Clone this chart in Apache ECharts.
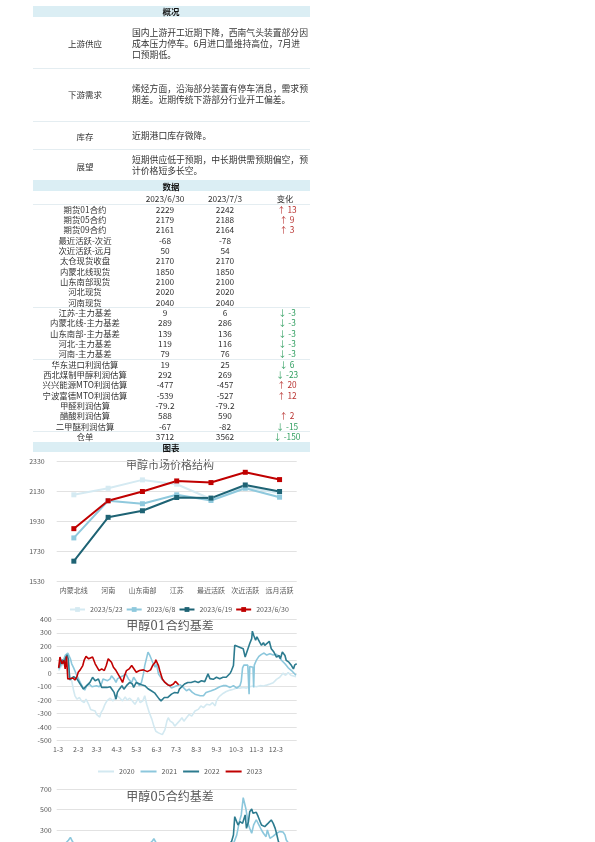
<!DOCTYPE html>
<html><head><meta charset="utf-8">
<script src="https://cdn.jsdelivr.net/npm/echarts@6/dist/echarts.min.js"></script>
<style>
html,body{margin:0;padding:0;background:#fff;}
body{width:595px;height:842px;overflow:hidden;position:relative;font-family:'Noto Sans CJK SC',sans-serif;color:#333;}
#chart{position:absolute;left:0;top:0;width:595px;height:960px;}
.t{position:absolute;white-space:nowrap;line-height:1;}
.c{transform:translate(-50%,-50%);}
.l{transform:translate(0,-50%);}
.bar{position:absolute;left:33px;width:277px;background:#dbeef4;}
.sep{position:absolute;left:33px;width:277px;height:1px;background:#e4edf1;}
</style></head><body>
<div id="chart"></div>
<div id="layer"></div>
<script>
// ---------- 概况 ----------
const overviewLabels = ['上游供应','下游需求','库存','展望'];
const overviewTexts = [
  ['国内上游开工近期下降，西南气头装置部分因','成本压力停车。6月进口量维持高位，7月进','口预期低。'],
  ['烯烃方面，沿海部分装置有停车消息，需求预','期差。近期传统下游部分行业开工偏差。'],
  ['近期港口库存微降。'],
  ['短期供应低于预期，中长期供需预期偏空，预','计价格短多长空。']
];
// ---------- 数据 ----------
const tableHeader = ['2023/6/30','2023/7/3','变化'];
const rowNames = ['期货01合约','期货05合约','期货09合约','最近活跃-次近','次近活跃-远月','太仓现货收盘','内蒙北线现货','山东南部现货','河北现货','河南现货','江苏-主力基差','内蒙北线-主力基差','山东南部-主力基差','河北-主力基差','河南-主力基差','华东进口利润估算','西北煤制甲醇利润估算','兴兴能源MTO利润估算','宁波富德MTO利润估算','甲醛利润估算','醋酸利润估算','二甲醚利润估算','仓单'];
const col0630 = ['2229','2179','2161','-68','50','2170','1850','2100','2020','2040','9','289','139','119','79','19','292','-477','-539','-79.2','588','-67','3712'];
const col0703 = ['2242','2188','2164','-78','54','2170','1850','2100','2020','2040','6','286','136','116','76','25','269','-457','-527','-79.2','590','-82','3562'];
const changeVal = ['13','9','3','','','','','','','','-3','-3','-3','-3','-3','6','-23','20','12','','2','-15','-150'];
const changeDir = ['u','u','u','','','','','','','','d','d','d','d','d','d','d','u','u','','u','d','d'];

// ---------- 图1 甲醇市场价格结构 ----------
const structCats = ['内蒙北线','河南','山东南部','江苏','最近活跃','次近活跃','远月活跃'];
const p0523 = [2108,2152,2208,2179,2080,2160,2118];
const p0608 = [1819,2068,2048,2108,2070,2152,2092];
const p0619 = [1663,1957,2001,2090,2086,2174,2130];
const p0630 = [1881,2068,2130,2201,2190,2259,2210];
const structTicks = [1530,2330,200];

// ---------- 图2 甲醇01合约基差 (day of year, value) ----------
const monthDays = [2,33,61,92,122,153,183,214,245,275,306,336];
const monthLabels = ['1-3','2-3','3-3','4-3','5-3','6-3','7-3','8-3','9-3','10-3','11-3','12-3'];
const b01_2020 = [[3,20],[6,45],[10,70],[15,95],[18,57],[20,-18],[23,-55],[26,-130],[28,-167],[31,-192],[35,-180],[38,-205],[42,-217],[45,-192],[49,-230],[52,-268],[55,-255],[59,-280],[61,-305],[64,-318],[66,-325],[68,-292],[71,-268],[74,-230],[77,-205],[82,-185],[86,-205],[89,-192],[93,-167],[97,-185],[101,-205],[105,-175],[108,-200],[112,-185],[116,-205],[120,-230],[123,-205],[125,-180],[128,-218],[132,-205],[135,-167],[138,-230],[142,-292],[146,-342],[149,-392],[152,-430],[156,-442],[159,-435],[162,-455],[166,-418],[169,-355],[171,-330],[174,-355],[178,-367],[181,-392],[184,-380],[188,-355],[192,-330],[195,-355],[199,-330],[203,-305],[207,-318],[212,-280],[217,-268],[221,-242],[225,-255],[230,-230],[235,-235],[239,-218],[243,-242],[245,-205],[248,-180],[251,-165],[255,-150],[260,-135],[266,-125],[271,-118],[276,-110],[281,-110],[286,-105],[291,-110],[296,-100],[301,-95],[306,-100],[312,-92],[317,-95],[322,-88],[327,-80],[332,-70],[337,-45],[342,-30],[345,-20],[347,0],[351,-15],[355,5],[359,-15],[363,-20],[367,-25]];
const b01_2021 = [[3,32],[8,70],[13,132],[17,150],[19,145],[21,107],[23,70],[26,40],[31,-18],[36,-68],[40,-105],[43,-125],[46,-92],[50,-80],[54,-100],[56,-105],[61,-92],[65,-100],[69,-75],[71,-42],[74,-30],[78,-55],[82,-42],[84,-18],[88,-42],[91,-68],[93,-42],[97,-30],[102,-18],[106,-5],[110,-42],[115,-68],[118,-30],[123,-68],[127,-92],[130,-68],[133,-5],[135,57],[138,70],[140,157],[142,162],[143,130],[146,95],[148,70],[151,45],[153,70],[156,-5],[161,-42],[166,-68],[169,-55],[173,-92],[176,-110],[179,-118],[184,-92],[189,-85],[194,-105],[199,-130],[203,-118],[208,-142],[212,-155],[214,-142],[220,-167],[225,-167],[229,-142],[232,-155],[237,-130],[243,-118],[245,-105],[250,-100],[255,-92],[260,-92],[266,-105],[271,-92],[276,-110],[281,-92],[283,-60],[285,40],[287,60],[290,55],[293,60],[295,-155],[296,50],[299,55],[301,45],[302,-105],[303,60],[306,95],[310,125],[314,140],[318,150],[322,135],[327,145],[332,135],[337,140],[341,120],[345,95],[350,70],[355,40],[360,20],[364,0],[367,-15]];
const b01_2022 = [[3,40],[6,80],[9,100],[11,70],[13,107],[16,137],[18,100],[20,-50],[26,-25],[31,-42],[36,-80],[41,-117],[43,-130],[46,-92],[51,-68],[55,-30],[59,-55],[64,-42],[66,-68],[69,-105],[71,-92],[77,-105],[82,-100],[84,-105],[88,-142],[91,-192],[93,-142],[96,-118],[100,-92],[103,-118],[107,-92],[112,-68],[116,-80],[118,-105],[122,-68],[125,-80],[130,-85],[135,-92],[140,-115],[145,-130],[150,-145],[153,-155],[157,-190],[160,-205],[165,-180],[170,-180],[176,-155],[181,-142],[186,-147],[188,-118],[191,-105],[196,-80],[201,-68],[206,-68],[212,-60],[217,-68],[222,-55],[227,-62],[230,-60],[232,-5],[235,-40],[240,-45],[245,-30],[250,-40],[255,-30],[260,-30],[266,0],[268,20],[271,57],[273,207],[276,195],[286,182],[287,170],[289,120],[291,132],[296,220],[299,257],[300,312],[302,282],[305,245],[307,270],[311,232],[314,207],[317,227],[319,207],[322,220],[326,237],[329,182],[333,157],[337,120],[341,132],[343,107],[346,157],[350,132],[352,95],[356,82],[360,57],[363,32],[365,62],[368,70]];
const b01_2023 = [[3,40],[5,120],[8,70],[9,62],[11,95],[13,32],[15,125],[17,-42],[20,-50],[25,-35],[28,-50],[31,-25],[33,8],[36,25],[40,57],[42,95],[45,125],[49,107],[51,100],[55,120],[59,70],[61,82],[65,20],[69,32],[73,20],[76,57],[79,107],[82,120],[84,82],[87,45],[91,20],[94,8],[97,-30],[101,-68],[104,-18],[107,20],[111,32],[115,57],[118,45],[122,8],[127,20],[133,25],[139,12],[144,25],[147,57],[151,82],[152,100],[156,57],[158,20],[162,-42],[166,-68],[170,-85],[174,-92],[179,-80],[182,-60],[184,-68],[187,-85]];

// ---------- 图3 甲醇05合约基差 ----------
const b05_2020 = [[3,0],[40,-150],[64,-250],[100,-180],[160,-420],[200,-300],[250,-130],[300,-100],[367,-20]];
const b05_2021 = [[3,120],[12,160],[18,200],[21,228],[24,190],[30,130],[45,60],[60,20],[90,40],[120,80],[140,150],[147,195],[149,215],[152,180],[160,100],[180,-20],[210,-80],[240,-40],[260,20],[270,150],[276,250],[280,380],[283,447],[286,615],[288,625],[290,510],[294,350],[296,316],[299,268],[302,350],[306,400],[310,350],[314,300],[317,268],[321,235],[323,300],[327,219],[332,240],[337,268],[342,284],[345,268],[347,280],[350,252],[352,203],[358,150],[367,120]];
const b05_2022 = [[3,80],[30,0],[60,-60],[100,-50],[150,-150],[180,-80],[220,20],[250,80],[262,150],[268,186],[271,251],[273,430],[276,414],[278,349],[281,381],[285,365],[289,447],[291,316],[294,381],[296,479],[299,505],[301,463],[304,453],[306,473],[309,430],[312,381],[314,349],[317,349],[319,333],[322,349],[324,365],[327,381],[329,398],[332,365],[335,316],[337,268],[340,186],[345,150],[355,100],[367,120]];
const b05_2023 = [[3,60],[20,-30],[45,80],[80,60],[100,-40],[130,10],[150,70],[170,-60],[187,-70]];

// ---------- HTML text layer ----------
const layer = document.getElementById('layer');
function add(cls, x, y, txt, style){
  const d = document.createElement('div');
  d.className = 't ' + cls; d.style.left = x + 'px'; d.style.top = y + 'px';
  d.textContent = txt; if (style) d.style.cssText += style; layer.appendChild(d); return d;
}
function bar(top, h, txt){
  const b = document.createElement('div'); b.className='bar';
  b.style.top = top + 'px'; b.style.height = h + 'px'; layer.appendChild(b);
  add('c', 171, top + h/2, txt, 'font-size:8.5px;font-weight:bold;color:#111;');
}
function sep(y){ const s=document.createElement('div'); s.className='sep'; s.style.top=y+'px'; layer.appendChild(s); }

bar(6, 10.5, '概况');
const ovLabelY = [43, 94, 136, 165.5];
const ovTextY = [33.3, 88.8, 135.5, 159.5];
overviewLabels.forEach((lab, i) => {
  add('c', 85, ovLabelY[i], lab, 'font-size:8.5px;color:#333;');
  overviewTexts[i].forEach((ln, j) => add('l', 132, ovTextY[i] + j*11, ln, 'font-size:8.8px;color:#333;'));
});
[68.3, 120.5, 148.5].forEach(sep);

bar(180, 11, '数据');
const rowY0 = 198.4, rowH = 10.33;
add('c', 165, rowY0, tableHeader[0], 'font-size:8.3px;');
add('c', 225, rowY0, tableHeader[1], 'font-size:8.3px;');
add('c', 285, rowY0, tableHeader[2], 'font-size:8.3px;');
rowNames.forEach((nm, i) => {
  const y = rowY0 + (i+1)*rowH;
  add('c', 85, y, nm, 'font-size:8.4px;');
  add('c', 165, y, col0630[i], 'font-size:8.3px;');
  add('c', 225, y, col0703[i], 'font-size:8.3px;');
  if (changeVal[i] !== '') {
    const up = changeDir[i] === 'u';
    add('c', 287, y, (up ? '↑ ' : '↓ ') + changeVal[i], 'font-size:8.3px;color:' + (up ? '#b8312f' : '#2f9e5f') + ';');
  }
});
[204, 306.8, 359, 431.3].forEach(sep);
bar(441.5, 10.5, '图表');

// ---------- ECharts ----------
const chart = echarts.init(document.getElementById('chart'), null, {renderer:'canvas'});
const FONT = "'Noto Sans CJK SC', sans-serif";
const TFONT = "'DejaVu Serif', 'Noto Sans CJK SC', serif";
const gridLine = {show:true, lineStyle:{color:'#e2e2e2', width:1}};
const lab = {fontSize:7, color:'#595959', fontFamily:FONT};
const plain = v => String(v);
const daysAxis = (gi) => ({
  type:'value', gridIndex:gi, min:0, max:368,
  axisLine:{show:false}, axisTick:{show:false}, splitLine:{show:false},
  axisLabel:Object.assign({}, lab, {margin:5, customValues:monthDays, showMinLabel:true, showMaxLabel:true,
    formatter:v => { const k = monthDays.indexOf(Math.round(v)); return k >= 0 ? monthLabels[k] : ''; }})
});
const lineS = (name, data, color, xi) => ({
  name, type:'line', xAxisIndex:xi, yAxisIndex:xi, data, symbol:'none', showSymbol:false,
  lineStyle:{color, width:1.6}, itemStyle:{color}, animation:false
});
const structS = (name, data, color) => ({
  name, type:'line', xAxisIndex:0, yAxisIndex:0, data, symbol:'rect', symbolSize:5,
  lineStyle:{color, width:2}, itemStyle:{color}, animation:false
});
const C = {a:'#d5eaf2', b:'#8fc9dd', c:'#1e6374', d:'#c00000'};
const Y = {y20:'#d3e9f1', y21:'#8cc7dc', y22:'#2c7b8f', y23:'#c00000'};

chart.setOption({
  animation:false,
  textStyle:{fontFamily:FONT},
  grid:[
    {left:56.7, width:240, top:461.7, height:119.3},
    {left:56.7, width:240, top:619.3, height:121.4},
    {left:56.7, width:240, top:789, height:123}
  ],
  xAxis:[
    {type:'category', gridIndex:0, data:structCats, boundaryGap:true,
     axisLine:{show:false}, axisTick:{show:false}, axisLabel:Object.assign({}, lab, {margin:6, interval:0})},
    daysAxis(1), daysAxis(2)
  ],
  yAxis:[
    {type:'value', gridIndex:0, min:structTicks[0], max:structTicks[1], interval:structTicks[2],
     axisLine:{show:false}, axisTick:{show:false}, splitLine:gridLine, axisLabel:Object.assign({}, lab, {margin:12, formatter:plain})},
    {type:'value', gridIndex:1, min:-500, max:400, interval:100,
     axisLine:{show:false}, axisTick:{show:false}, splitLine:gridLine, axisLabel:Object.assign({}, lab, {margin:5, formatter:plain})},
    {type:'value', gridIndex:2, min:-500, max:700, interval:200,
     axisLine:{show:false}, axisTick:{show:false}, splitLine:gridLine, axisLabel:Object.assign({}, lab, {margin:5, formatter:plain})}
  ],
  legend:[
    {data:['2023/5/23','2023/6/8','2023/6/19','2023/6/30'], left:64, top:601, itemWidth:15, itemHeight:6, itemGap:3,
     textStyle:{fontSize:7, color:'#595959', fontFamily:FONT}},
    {data:['2020','2021','2022','2023'], left:93, top:763, itemWidth:16, itemHeight:2, itemGap:6, icon:'rect',
     textStyle:{fontSize:7, color:'#595959', fontFamily:FONT}}
  ],
  graphic:[
    {type:'text', x:170, y:466.5, style:{text:'甲醇市场价格结构', fill:'#595959', font:'11px ' + TFONT, textAlign:'center', textVerticalAlign:'middle'}},
    {type:'text', x:170, y:627, style:{text:'甲醇01合约基差', fill:'#595959', font:'12px ' + TFONT, textAlign:'center', textVerticalAlign:'middle'}},
    {type:'text', x:170, y:798, style:{text:'甲醇05合约基差', fill:'#595959', font:'12px ' + TFONT, textAlign:'center', textVerticalAlign:'middle'}}
  ],
  series:[
    structS('2023/5/23', p0523, C.a),
    structS('2023/6/8', p0608, C.b),
    structS('2023/6/19', p0619, C.c),
    structS('2023/6/30', p0630, C.d),
    lineS('2020', b01_2020, Y.y20, 1),
    lineS('2021', b01_2021, Y.y21, 1),
    lineS('2022', b01_2022, Y.y22, 1),
    lineS('2023', b01_2023, Y.y23, 1),
    lineS('2020', b05_2020, Y.y20, 2),
    lineS('2021', b05_2021, Y.y21, 2),
    lineS('2022', b05_2022, Y.y22, 2),
    lineS('2023', b05_2023, Y.y23, 2)
  ]
});
</script>
</body></html>
